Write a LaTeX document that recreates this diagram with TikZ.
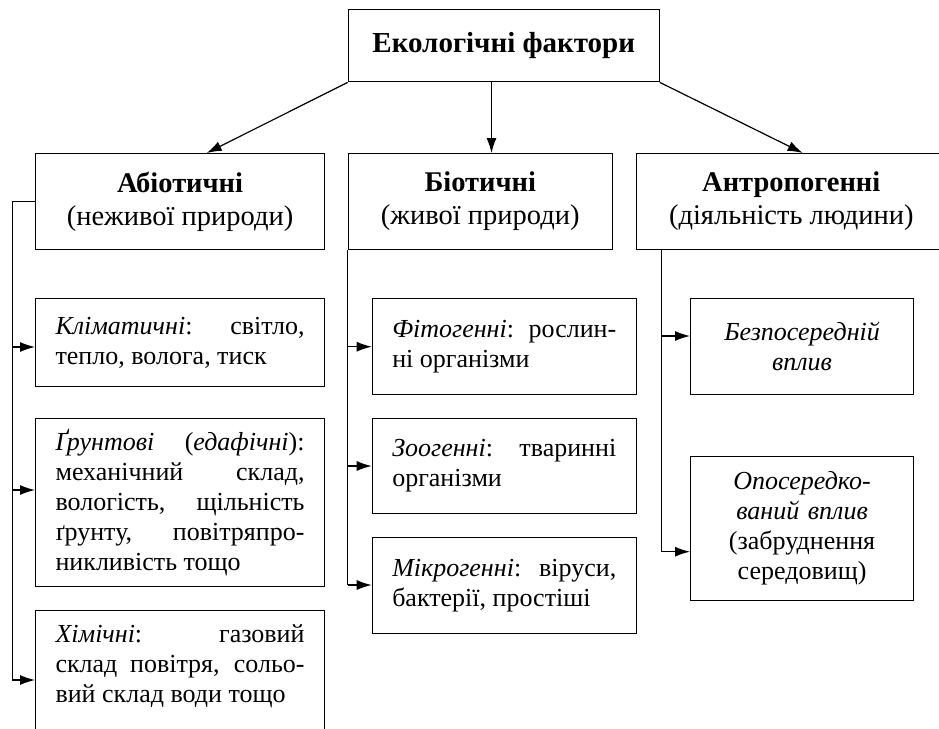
\documentclass[tikz,border=0pt]{standalone}
\usepackage{fontspec}
\setmainfont{Liberation Serif}
\usetikzlibrary{arrows.meta,calc}
\newcommand\bodyf{\fontsize{26}{30}\selectfont}
\newcommand\headf{\fontsize{28.5}{33}\selectfont}
\newcommand\titlef{\fontsize{29}{34}\selectfont\bfseries}
\begin{document}
\begin{tikzpicture}[x=1pt,y=-1pt,
  ln/.style={line width=1.2pt},
  arr/.style={line width=1.2pt,-{Latex[length=15pt,width=10pt]}},
  bx/.style={draw,line width=1.1pt,anchor=north west,inner ysep=0pt},
  hbox/.style={bx,align=center,font=\headf,minimum height=96pt},
  tbox/.style={bx,inner xsep=20pt,font=\bodyf,text width=#1,align=justify},
  cbox/.style={bx,align=center,font=\bodyf,inner xsep=0pt,text width=223pt}]
\useasboundingbox (0,0) rectangle (939,728);
% title
\node[bx,font=\titlef,minimum width=311pt,minimum height=72pt] (top) at (347.7,9.3) {Екологічні фактори};
% headers
\node[hbox,minimum width=289pt] (abio) at (35,153) {\textbf{Абіотичні}\\(неживої природи)};
\node[hbox,minimum width=264pt] (bio) at (347.7,153) {\textbf{Біотичні}\\(живої природи)};
\node[hbox,minimum width=310pt] (anth) at (635.7,153) {\textbf{Антропогенні}\\(діяльність людини)};
% abiotic sub boxes
\tikzset{every node/.append style={execute at begin node={\pretolerance=-1\tolerance=10000\hyphenpenalty=10000\emergencystretch=20pt}}}
\node[tbox=249pt,minimum height=87.4pt] (klim) at (35,298.3) {\textit{Кліматичні}: світло,\linebreak тепло, волога, тиск};
\node[tbox=249pt,minimum height=167.7pt] (grunt) at (35,418) {\textit{Ґрунтові} (\textit{едафічні}):\linebreak механічний склад,\linebreak вологість, щільність\linebreak ґрунту, повітряпро-\linebreak никливість тощо};
\node[tbox=249pt,inner ysep=0pt] (khim) at (35,610) {\rule{0pt}{32pt}\textit{Хімічні}: газовий\linebreak склад повітря, сольо-\linebreak вий склад води тощо\rule[-60pt]{0pt}{1pt}};
% biotic sub boxes
\node[tbox=224pt,minimum height=96pt] (fito) at (371.7,298) {\textit{Фітогенні}: рослин-\linebreak ні організми};
\node[tbox=224pt,minimum height=95.6pt] (zoo) at (371.7,417.7) {\textit{Зоогенні}: тваринні\linebreak організми};
\node[tbox=224pt,minimum height=96pt] (micro) at (371.7,537.3) {\textit{Мікрогенні}: віруси,\linebreak бактерії, простіші};
% anthropogenic sub boxes
\node[cbox,minimum height=95.7pt] (bezpo) at (690,298.3) {\textit{Безпосередній}\\\textit{вплив}};
\node[cbox,minimum height=144pt] (opos) at (690,456) {\textit{Опосередко-}\\\textit{ваний вплив}\\(забруднення\\середовищ)};
% top arrows
\draw[arr] (top.south west) -- ($(abio.north west)+(171.7,0)$);
\draw[arr] ($(top.south west)+(143.8,0)$) -- ($(bio.north west)+(143.8,0)$);
\draw[arr] (top.south east) -- ($(anth.north west)+(167,0)$);
% abiotic trunk
\coordinate (aL) at (12.3,201.7);
\coordinate (a1) at (12.3,347);
\coordinate (a2) at (12.3,490);
\coordinate (a3) at (12.3,680);
\draw[ln] (aL -| abio.west) -- (aL) -- (a3);
\draw[arr] (a1) -- (a1 -| klim.west);
\draw[arr] (a2) -- (a2 -| grunt.west);
\draw[arr] (a3) -- (a3 -| khim.west);
% biotic trunk
\coordinate (b1) at (347.7,346.7);
\coordinate (b2) at (347.7,466);
\coordinate (b3) at (347.7,585);
\draw[ln] (bio.south west) -- (b3);
\draw[arr] (b1) -- (b1 -| fito.west);
\draw[arr] (b2) -- (b2 -| zoo.west);
\draw[arr] (b3) -- (b3 -| micro.west);
% anthropogenic trunk
\coordinate (c0) at (661.7,249);
\coordinate (c1) at (661.7,336);
\coordinate (c2) at (661.7,551.7);
\draw[ln] (c0) -- (c2);
\draw[arr] (c1) -- (c1 -| bezpo.west);
\draw[arr] (c2) -- (c2 -| opos.west);
\end{tikzpicture}
\end{document}
